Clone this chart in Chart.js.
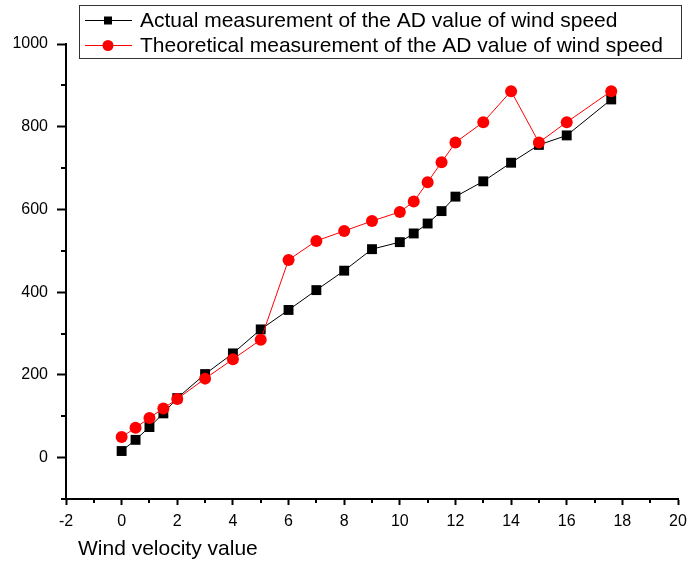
<!DOCTYPE html>
<html>
<head>
<meta charset="utf-8">
<script src="https://cdn.jsdelivr.net/npm/chart.js@4.4.0/dist/chart.umd.min.js"></script>
<style>
html,body{margin:0;padding:0;background:#fff;}
#wrap{width:688px;height:561px;position:relative;}
</style>
</head>
<body>
<div id="wrap"><canvas id="c" width="688" height="561"></canvas></div>
<script>
// ---- data ----
const windSpeed = [0, 0.5, 1, 1.5, 2, 3, 4, 5, 6, 7, 8, 9, 10, 10.5, 11, 11.5, 12, 13, 14, 15, 16, 17.6];
const actualAD = [16, 43, 74, 107, 144, 202, 252, 310, 357, 405, 452, 504, 521, 542, 566, 596, 631, 668, 713, 756, 779, 866];
const theoreticalAD = [50, 72, 96, 119, 142, 191, 238, 285, 478, 524, 548, 572, 594, 619, 666, 714, 762, 811, 886, 762, 811, 886];
const seriesNames = ['Actual measurement of the AD value of wind speed', 'Theoretical measurement of the AD value of wind speed'];
const xTitle = 'Wind velocity value';
const xRange = [-2, 20];
const yRange = [-100, 1000];

const FONT = "Arial, 'Liberation Sans', sans-serif";

const toXY = (xs, ys) => xs.map((x, i) => ({x: x, y: ys[i]}));

const minorTicks = {
  id: 'minorTicks',
  afterDraw(chart) {
    const ctx = chart.ctx, xs = chart.scales.x, ys = chart.scales.y, a = chart.chartArea;
    ctx.save();
    ctx.strokeStyle = '#000';
    ctx.lineWidth = 2;
    ctx.beginPath();
    for (let v = yRange[0]; v <= yRange[1]; v += 100) {
      if (v % 200 === 0) continue;
      const p = Math.round(ys.getPixelForValue(v));
      ctx.moveTo(a.left, p); ctx.lineTo(a.left - 5, p);
    }
    for (let v = xRange[0]; v <= xRange[1]; v += 1) {
      if (v % 2 === 0) continue;
      const p = Math.round(xs.getPixelForValue(v));
      ctx.moveTo(p, a.bottom); ctx.lineTo(p, a.bottom + 4);
    }
    ctx.stroke();
    // axis title
    ctx.fillStyle = '#000';
    ctx.font = '21px ' + FONT;
    ctx.textAlign = 'left';
    ctx.textBaseline = 'alphabetic';
    ctx.fillText(xTitle, 78, 555);
    ctx.restore();
  }
};

const boxLegend = {
  id: 'boxLegend',
  afterDraw(chart) {
    const ctx = chart.ctx;
    ctx.save();
    ctx.fillStyle = '#fff';
    ctx.fillRect(79.5, 5.5, 602, 53);
    ctx.strokeStyle = '#333';
    ctx.lineWidth = 1;
    ctx.strokeRect(79.5, 5.5, 602, 53);
    const rows = [20, 45];
    chart.data.datasets.forEach((ds, i) => {
      const y = rows[i];
      ctx.strokeStyle = ds.borderColor;
      ctx.lineWidth = 1;
      ctx.beginPath(); ctx.moveTo(85, y + 0.5); ctx.lineTo(132, y + 0.5); ctx.stroke();
      ctx.fillStyle = ds.pointBackgroundColor;
      if (ds.pointStyle === 'rect') {
        ctx.fillRect(104, y - 3.5, 8, 8);
      } else {
        ctx.beginPath(); ctx.arc(108, y + 0.5, 5.5, 0, Math.PI * 2); ctx.fill();
      }
      ctx.fillStyle = '#000';
      ctx.font = '21px ' + FONT;
      ctx.textBaseline = 'middle';
      ctx.fillText(ds.label, 140, y + 1.5);
    });
    ctx.restore();
  }
};

new Chart(document.getElementById('c'), {
  type: 'line',
  data: {
    datasets: [
      {
        label: seriesNames[0],
        data: toXY(windSpeed, actualAD),
        borderColor: '#000',
        backgroundColor: '#000',
        pointBackgroundColor: '#000',
        pointBorderColor: '#000',
        pointStyle: 'rect',
        pointRadius: 7,
        pointBorderWidth: 0,
        borderWidth: 1,
        order: 2
      },
      {
        label: seriesNames[1],
        data: toXY(windSpeed, theoreticalAD),
        borderColor: '#ff0000',
        backgroundColor: '#ff0000',
        pointBackgroundColor: '#ff0000',
        pointBorderColor: '#ff0000',
        pointStyle: 'circle',
        pointRadius: 6,
        pointBorderWidth: 0,
        borderWidth: 1,
        order: 1
      }
    ]
  },
  options: {
    responsive: false,
    animation: false,
    layout: {padding: {top: 44, right: 10, left: 0, bottom: 0}},
    plugins: {legend: {display: false}, tooltip: {enabled: false}},
    elements: {line: {tension: 0}},
    scales: {
      x: {
        type: 'linear',
        min: xRange[0], max: xRange[1],
        afterFit: s => { s.height = 62; s.paddingLeft = 0; s.paddingRight = 0; },
        grid: {
          drawOnChartArea: false, drawTicks: true, tickLength: 6, tickWidth: 2,
          color: c => (c.tick && c.tick.value % 2 === 0) ? '#000' : 'rgba(0,0,0,0)'
        },
        border: {display: true, color: '#000', width: 2},
        ticks: {
          stepSize: 1, autoSkip: false, maxRotation: 0, padding: 7, color: '#000',
          font: {family: FONT, size: 16},
          callback: v => (v % 2 === 0 ? String(v) : '')
        }
      },
      y: {
        type: 'linear',
        min: yRange[0], max: yRange[1],
        afterFit: s => { s.width = 66; },
        grid: {
          drawOnChartArea: false, drawTicks: true, tickLength: 9, tickWidth: 2,
          color: c => (c.tick && c.tick.value % 200 === 0) ? '#000' : 'rgba(0,0,0,0)'
        },
        border: {display: true, color: '#000', width: 2},
        ticks: {
          stepSize: 100, autoSkip: false, padding: 9, color: '#000',
          font: {family: FONT, size: 16},
          callback: v => (v % 200 === 0 ? String(v) : '')
        }
      }
    }
  },
  plugins: [minorTicks, boxLegend]
});
</script>
</body>
</html>
